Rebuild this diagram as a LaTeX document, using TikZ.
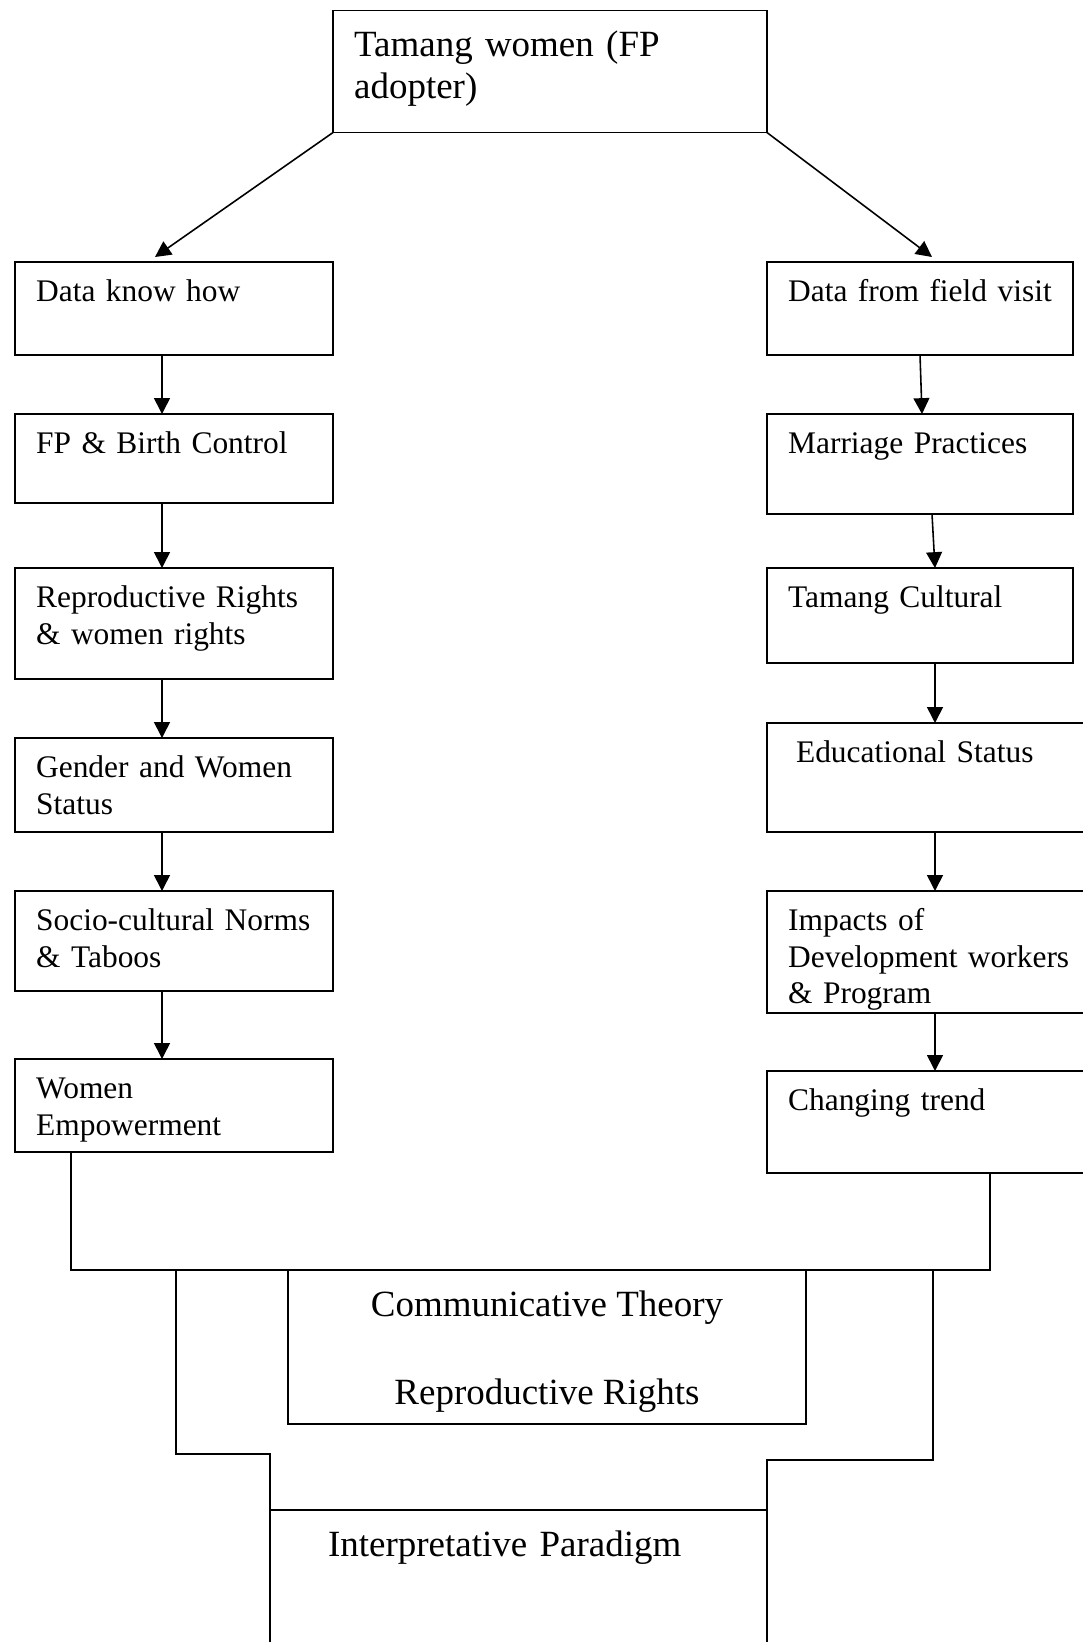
\documentclass[tikz,border=0pt]{standalone}
\usepackage{fontspec}
\setmainfont{Liberation Serif}
\usetikzlibrary{arrows.meta}

\begin{document}
\begin{tikzpicture}[
                x=0.3786pt, y=-0.3786pt, line width=0.6pt,
                every node/.style={draw, rectangle, anchor=north west, align=left, outer sep=0pt, line width=0.6pt},
                box/.style={font=\fontsize{11.9pt}{13.8pt}\selectfont, text height=9pt, inner xsep=8pt, inner ysep=6pt},
                lbox/.style={box, text width=104.4pt},
                rbox/.style={box, text width=99.9pt},
                wbox/.style={box, text width=106.3pt},
                big/.style={font=\fontsize{14pt}{16.1pt}\selectfont, text height=10.5pt, inner xsep=8pt, inner ysep=6.8pt},
                arr/.style={-{Triangle[length=6pt,width=6pt]}}
            ]
            \useasboundingbox (0,0) rectangle (1083,1642);

            % Racine
            \node[big, text depth=22.1pt, text width=148.3pt] (tw) at (333,10.5) {Tamang women (FP\\adopter)};

            % Colonne de gauche
            \node[lbox, text depth=14.2pt] (dk) at (15,262) {Data know how};
            \node[lbox, text depth=12.7pt] (fp) at (15,414) {FP \& Birth Control};
            \node[lbox, text depth=21pt] (rr) at (15,568) {\mbox{Reproductive Rights}\\\& women rights};
            \node[lbox, text depth=14.6pt] (gw) at (15,738) {\mbox{Gender and Women}\\Status};
            \node[lbox, text depth=16.9pt] (sc) at (15,891) {\mbox{Socio-cultural Norms}\\\& Taboos};
            \node[lbox, text depth=14.2pt] (we) at (15,1059) {Women\\Empowerment};

            % Colonne de droite
            \node[rbox, text depth=14.2pt] (ff) at (767,262) {\mbox{Data from field visit}};
            \node[rbox, text depth=16.9pt] (mp) at (767,414) {\mbox{Marriage Practices}};
            \node[rbox, text depth=15pt] (tc) at (767,568) {Tamang Cultural};
            \node[wbox, text depth=20.3pt, inner xsep=11pt, text width=100.3pt] (es) at (767,723) {\mbox{Educational Status}};
            \node[wbox, text depth=25.2pt] (im) at (767,891) {Impacts of\\\mbox{Development workers}\\\& Program};
            \node[wbox, text depth=17.6pt] (ch) at (767,1071) {Changing trend};

            % Theories
            \node[big, align=center, minimum width=196.1pt, minimum height=58.3pt, inner sep=0pt, text height=45.6pt, text depth=2.4pt] (ct) at (288,1270) {Communicative Theory\\[17pt]Reproductive Rights};
            \node[big, text depth=32pt, inner xsep=22pt, inner ysep=7pt, text width=144.2pt] (ip) at (270,1510) {Interpretative Paradigm};

            % Fleches
            \draw[arr] (tw.south west) -- ([shift={(140,-5)}]dk.north west);
            \draw[arr] (tw.south east) -- ([shift={(165,-5)}]ff.north west);
            \draw[arr] ([shift={(147,0)}]dk.south west) -- ([shift={(147,0)}]fp.north west);
            \draw[arr] ([shift={(147,0)}]fp.south west) -- ([shift={(147,0)}]rr.north west);
            \draw[arr] ([shift={(147,0)}]rr.south west) -- ([shift={(147,0)}]gw.north west);
            \draw[arr] ([shift={(147,0)}]gw.south west) -- ([shift={(147,0)}]sc.north west);
            \draw[arr] ([shift={(147,0)}]sc.south west) -- ([shift={(147,0)}]we.north west);
            \draw[arr] ([shift={(153,0)}]ff.south west) -- ([shift={(155,0)}]mp.north west);
            \draw[arr] ([shift={(165,0)}]mp.south west) -- ([shift={(168,0)}]tc.north west);
            \draw[arr] ([shift={(168,0)}]tc.south west) -- ([shift={(168,0)}]es.north west);
            \draw[arr] ([shift={(168,0)}]es.south west) -- ([shift={(168,0)}]im.north west);
            \draw[arr] ([shift={(168,0)}]im.south west) -- ([shift={(168,0)}]ch.north west);

            % Liaisons du bas
            \draw ([shift={(56,0)}]we.south west) |- (ct.north west);
            \draw ([shift={(223,0)}]ch.south west) |- (ct.north east);
            \draw ([shift={(-112,0)}]ct.north west) -- ++(0,184) -| (ip.north west);
            \draw ([shift={(127,0)}]ct.north east) -- ++(0,190) -| (ip.north east);
        \end{tikzpicture}
\end{document}
